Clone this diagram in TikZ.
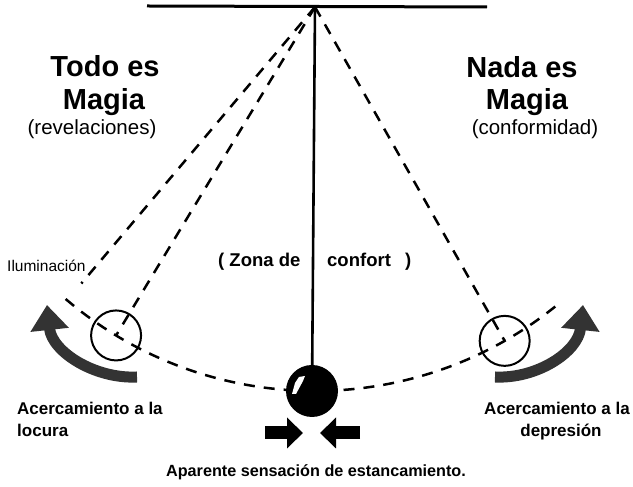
\documentclass[tikz,border=0pt]{standalone}
\usepackage{fontspec}
\setmainfont{Liberation Sans}
\usetikzlibrary{arrows.meta}
\definecolor{arrowgray}{HTML}{333333}
\begin{document}
\begin{tikzpicture}[x=1pt,y=1pt,
  dashline/.style={dash pattern=on 11pt off 9pt, line width=2.5pt},
  ttl/.style={font=\fontsize{29}{33}\selectfont\bfseries, inner sep=0pt, anchor=base},
  subt/.style={font=\fontsize{20.5}{24}\selectfont, inner sep=0pt, anchor=base},
  lbl/.style={font=\fontsize{17}{20}\selectfont\bfseries, inner sep=0pt},
  zona/.style={font=\fontsize{18.5}{22}\selectfont\bfseries, inner sep=0pt, anchor=base west},
  ring/.style={circle, draw, line width=2pt, minimum size=50pt, inner sep=0pt},
  bigarrow/.style={line width=11pt, draw=arrowgray, -{Triangle[width=37pt,length=25pt]}},
  smallarrow/.style={line width=13pt, draw=black, -{Triangle[width=30pt,length=16pt]}}
]
\useasboundingbox (0,0) rectangle (633,487);
% pivot and bar
\coordinate (P) at (315,480);
\coordinate (barL) at (147,481);
\coordinate (barR) at (487,480);
\draw[line width=3pt] (barL) -- (barR);
% swing positions
\node[ring] (lc) at ([shift={(238.8:384)}]P) {};
\node[ring] (rc) at ([shift={(299.6:384)}]P) {};
\coordinate (oe) at ([shift={(229.8:362)}]P);
\coordinate (arcS) at ([shift={(229.5:384)}]P);
% dashed lines
\draw[dashline] (P) -- (oe);
\draw[dashline] (P) -- (lc.center);
\draw[dashline] (P) -- (rc.center);
\draw[dashline] (arcS) arc[start angle=229.5, end angle=309.6, radius=384];
% string and bob
\coordinate (bobc) at (312,96);
\draw[line width=2.6pt] (P) -- (bobc);
\node[circle, fill=black, minimum size=52pt, inner sep=0pt] (bob) at (bobc) {};
\fill[white] (292,93) -- (296,93) -- (303,106) -- (305,111) -- (299,110) -- (295,104) -- cycle;
% curved arrows
\coordinate (la0) at (137,110);
\coordinate (la1) at (47,182);
\draw[bigarrow] (la0) .. controls (95,108) and (52,135) .. (la1);
\coordinate (ra0) at (495,110);
\coordinate (ra1) at (583,182);
\draw[bigarrow] (ra0) .. controls (537,108) and (578,135) .. (ra1);
% bottom arrows
\coordinate (ba1) at (265,54);
\coordinate (ba1t) at (303,54);
\coordinate (ba2) at (360,54);
\coordinate (ba2t) at (320,54);
\draw[smallarrow] (ba1) -- (ba1t);
\draw[smallarrow] (ba2) -- (ba2t);
% texts
\node[ttl] (t1) at (105,410) {Todo es};
\node[ttl] (t2) at (104,377) {Magia};
\node[subt] (t3) at (92,352) {(revelaciones)};
\node[ttl] (n1) at (522,409) {Nada es};
\node[ttl] (n2) at (527,377) {Magia};
\node[subt] (n3) at (535,352) {(conformidad)};
\node[font=\fontsize{15.5}{18}\selectfont, inner sep=0pt, anchor=base west] (ilu) at (7,215) {Iluminación};
\node[zona] (z1) at (218,220) {( Zona de};
\node[zona] (z2) at (327,220) {confort};
\node[zona] (z3) at (405,220) {)};
\node[lbl, anchor=base west] (a1) at (17,72) {Acercamiento a la};
\node[lbl, anchor=base west] (a2) at (17,50) {locura};
\node[lbl, anchor=base] (b1) at (557,72) {Acercamiento a la};
\node[lbl, anchor=base] (b2) at (561,50) {depresión};
\node[font=\fontsize{16.2}{19}\selectfont\bfseries, inner sep=0pt, anchor=base] (ap) at (316,10) {Aparente sensación de estancamiento.};
\end{tikzpicture}
\end{document}
